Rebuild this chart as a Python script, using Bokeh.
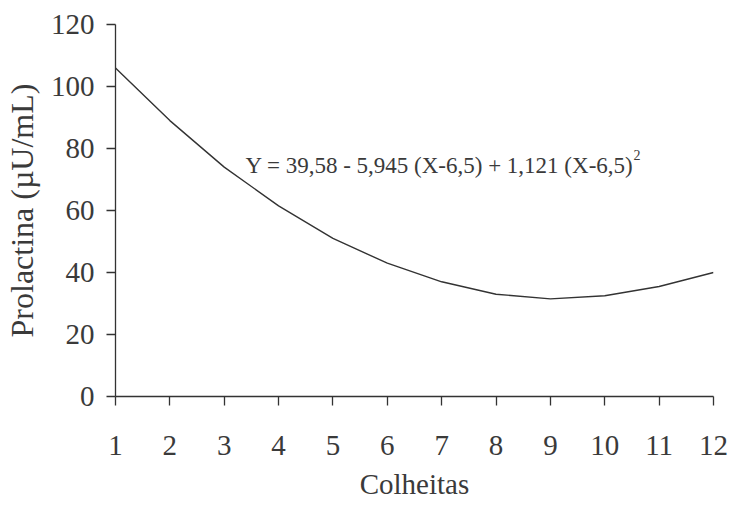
from bokeh.plotting import figure
from bokeh.models import Range1d, FixedTicker, Label
from bokeh.embed import file_html
from bokeh.resources import INLINE

colheitas = [1, 2, 3, 4, 5, 6, 7, 8, 9, 10, 11, 12]
prolactina = [106, 89, 74, 61.5, 51, 43, 37, 33, 31.5, 32.5, 35.5, 40]
y_ticks = [0, 20, 40, 60, 80, 100, 120]
equation = "Y = 39,58 - 5,945 (X-6,5) + 1,121 (X-6,5)"
superscript = "2"
x_title = "Colheitas"
y_title = "Prolactina (\u00b5U/mL)"

FONT = "Liberation Serif"
TXT = "#3a3a3a"
LINE = "#333333"

p = figure(width=730, height=505, output_backend="svg", toolbar_location=None,
           x_range=Range1d(1, 12), y_range=Range1d(0, 120),
           min_border_left=115, min_border_right=17, min_border_top=24, min_border_bottom=109)
p.outline_line_color = None
p.grid.visible = False
p.background_fill_color = "white"
p.border_fill_color = "white"

p.line(colheitas, prolactina, line_color=LINE, line_width=1.4)

for ax in (p.xaxis[0], p.yaxis[0]):
    ax.axis_line_color = LINE
    ax.axis_line_width = 1.3
    ax.major_tick_line_color = LINE
    ax.major_tick_line_width = 1.3
    ax.major_tick_out = 9
    ax.major_tick_in = 0
    ax.minor_tick_line_color = None
    ax.major_label_text_font = FONT
    ax.major_label_text_font_size = "29px"
    ax.major_label_text_color = TXT
    ax.axis_label_text_font = FONT
    ax.axis_label_text_font_size = "29px"
    ax.axis_label_text_font_style = "normal"
    ax.axis_label_text_color = TXT

p.yaxis[0].axis_label_text_font_size = "32px"
p.xaxis[0].ticker = FixedTicker(ticks=colheitas)
p.yaxis[0].ticker = FixedTicker(ticks=y_ticks)
p.xaxis[0].axis_label = x_title
p.yaxis[0].axis_label = y_title
p.xaxis[0].major_label_standoff = 30
p.yaxis[0].major_label_standoff = 12
p.xaxis[0].axis_label_standoff = 10
p.yaxis[0].axis_label_standoff = 8

p.add_layout(Label(x=3.39, y=74.5, text=equation, text_font=FONT, text_font_size="23px",
                   text_color=TXT, text_baseline="alphabetic", text_align="left"))
p.add_layout(Label(x=10.53, y=78, text=superscript, text_font=FONT, text_font_size="14px",
                   text_color=TXT, text_baseline="alphabetic", text_align="left"))

open("out.html", "w").write(file_html(p, INLINE))
